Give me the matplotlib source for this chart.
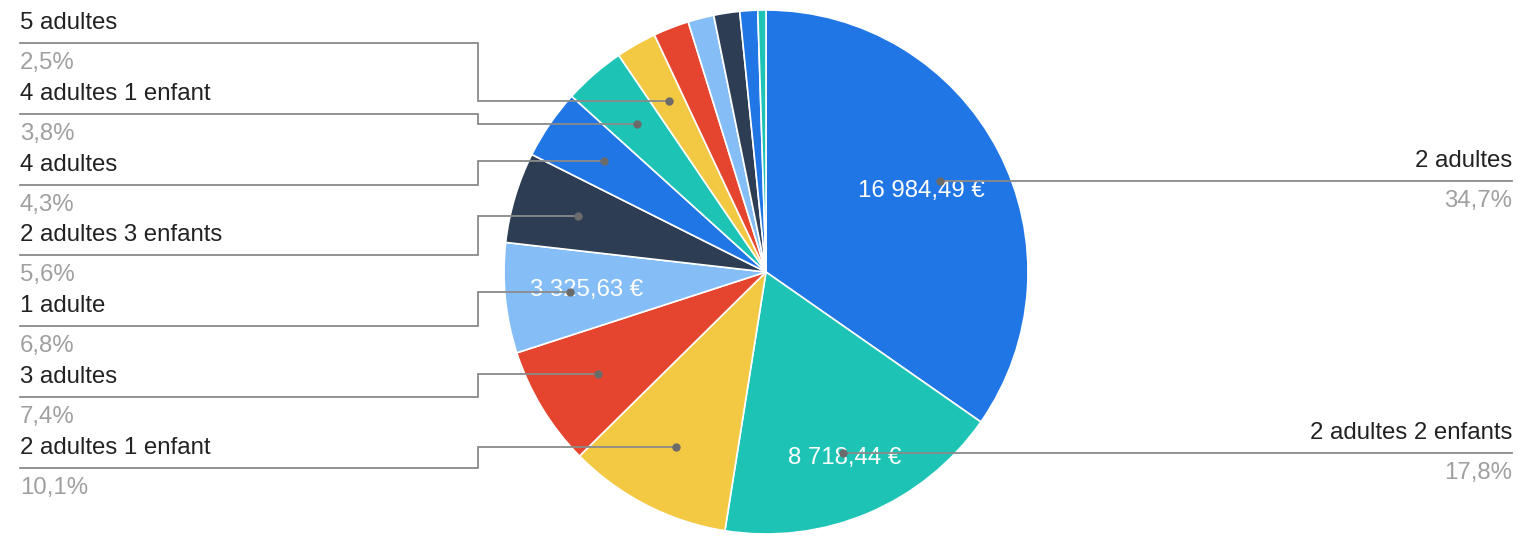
import matplotlib
matplotlib.use("Agg")
import matplotlib.pyplot as plt
import numpy as np

plt.rcParams['font.family'] = ['Liberation Sans', 'DejaVu Sans']

# ---- data ----
categories = ["2 adultes", "2 adultes 2 enfants", "2 adultes 1 enfant", "3 adultes",
              "1 adulte", "2 adultes 3 enfants", "4 adultes", "4 adultes 1 enfant",
              "5 adultes", "autre 1", "autre 2", "autre 3", "autre 4", "autre 5"]
values = [16984.49, 8718.44, 4944, 3622, 3325.63, 2741, 2105, 1860, 1224,
          1077, 783, 783, 538, 245]
labelled = [True, True, True, True, True, True, True, True, True,
            False, False, False, False, False]
show_value = [True, True, False, False, True, False, False, False, False,
              False, False, False, False, False]

colors = ['#2176E6', '#1DC4B6', '#F3C843', '#E5452F', '#85BEF7', '#2D3D54',
          '#2176E6', '#1DC4B6', '#F3C843', '#E5452F', '#85BEF7', '#2D3D54',
          '#2176E6', '#1DC4B6']

W, H = 1529, 536
fig = plt.figure(figsize=(W / 100, H / 100), dpi=100)
ax = fig.add_axes([0, 0, 1, 1])

cx, cy_img, R = 766, 272, 262
cy = H - cy_img

wedges, _ = ax.pie(values, colors=colors, startangle=90, counterclock=False,
                   center=(cx, cy), radius=R,
                   wedgeprops=dict(edgecolor='white', linewidth=1.2))
ax.set_xlim(0, W)
ax.set_ylim(0, H)
ax.set_aspect('equal')
ax.axis('off')

total = sum(values)

def fmt_pct(v):
    return f"{100 * v / total:.1f}".replace('.', ',') + "%"

def fmt_eur(v):
    s = f"{v:,.2f}"
    s = s.replace(',', ' ').replace('.', ',')
    return s + " €"

line_col = '#8a8a8a'
dot_col = '#6b6b6b'
name_col = '#222222'
pct_col = '#a0a0a0'
fs = 17.3

value_frac = {0: 0.67, 1: 0.77, 4: 0.69}

left_slot_y0, left_slot_dy = 43, 70.8
left_x0, left_xv = 20, 478
right_x1 = 1512

left_items = []
right_items = []
for i, w in enumerate(wedges):
    if not labelled[i]:
        continue
    mid = np.deg2rad((w.theta1 + w.theta2) / 2)
    dx, dy = 0.75 * R * np.cos(mid), 0.75 * R * np.sin(mid)
    dot = (cx + dx, cy + dy)
    if dx >= 0:
        right_items.append((i, dot))
    else:
        left_items.append((i, dot))

left_items.sort(key=lambda t: -t[1][1])
for k, (i, dot) in enumerate(left_items):
    ly = H - (left_slot_y0 + k * left_slot_dy)
    ax.plot([left_x0, left_xv, left_xv, dot[0]], [ly, ly, dot[1], dot[1]],
            color=line_col, lw=1.3, zorder=4, solid_joinstyle='miter')
    ax.plot(dot[0], dot[1], 'o', color=dot_col, ms=5, zorder=5)
    ax.text(left_x0, ly + 20, categories[i], ha='left', va='center',
            color=name_col, fontsize=fs, zorder=6)
    ax.text(left_x0, ly - 20, fmt_pct(values[i]), ha='left', va='center',
            color=pct_col, fontsize=fs, zorder=6)

for i, dot in right_items:
    ly = dot[1]
    ax.plot([dot[0], right_x1], [ly, ly], color=line_col, lw=1.3, zorder=4)
    ax.plot(dot[0], dot[1], 'o', color=dot_col, ms=5, zorder=5)
    ax.text(right_x1, ly + 20, categories[i], ha='right', va='center',
            color=name_col, fontsize=fs, zorder=6)
    ax.text(right_x1, ly - 20, fmt_pct(values[i]), ha='right', va='center',
            color=pct_col, fontsize=fs, zorder=6)

for i, w in enumerate(wedges):
    if not show_value[i]:
        continue
    mid = np.deg2rad((w.theta1 + w.theta2) / 2)
    f = value_frac.get(i, 0.7)
    ax.text(cx + f * R * np.cos(mid), cy + f * R * np.sin(mid), fmt_eur(values[i]),
            ha='center', va='center', color='white', fontsize=fs, zorder=3)

fig.savefig("out.png", dpi=100)
